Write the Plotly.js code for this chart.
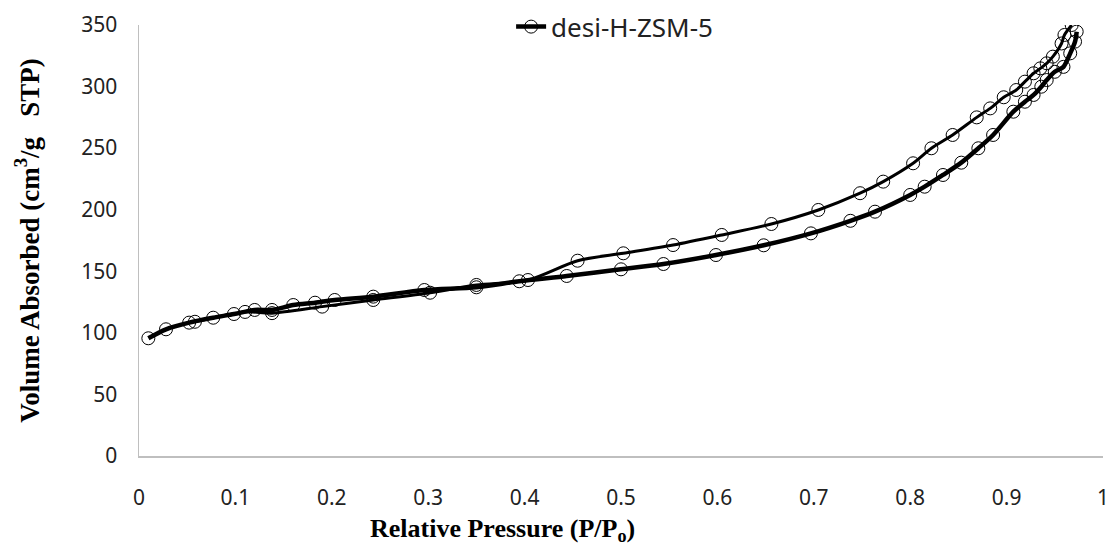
<!DOCTYPE html>
<html>
<head>
<meta charset="utf-8">
<script src="https://cdn.plot.ly/plotly-3.0.1.min.js"></script>
<style>html,body{margin:0;padding:0;background:#fff;}#chart{width:1119px;height:550px;}</style>
</head>
<body>
<div id="chart"></div>
<script>
// Adsorption branch (lower)
const adsP = [0.0097, 0.028, 0.052, 0.077, 0.0985, 0.12, 0.138, 0.16, 0.1826, 0.203, 0.243, 0.296, 0.350, 0.3945, 0.4437, 0.500, 0.544, 0.5985, 0.648, 0.697, 0.738, 0.7635, 0.800, 0.815, 0.834, 0.853, 0.8707, 0.886, 0.907, 0.919, 0.928, 0.936, 0.9416, 0.950, 0.959, 0.966, 0.971, 0.9727];
const adsV = [95.6, 102.9, 108.3, 112.3, 115.3, 118.6, 118.6, 122.6, 124.5, 126.7, 129.4, 134.8, 137.0, 141.9, 146.2, 151.6, 155.9, 163.2, 171.1, 180.8, 191.0, 198.4, 212.0, 218.7, 228.2, 238.2, 249.9, 260.7, 279.6, 287.7, 293.2, 299.9, 305.3, 312.0, 316.0, 327.0, 336.5, 344.6];
// Desorption branch (upper, then back down over the low-pressure region)
const desP = [0.9675, 0.960, 0.957, 0.948, 0.9416, 0.935, 0.928, 0.919, 0.910, 0.897, 0.883, 0.869, 0.844, 0.822, 0.803, 0.772, 0.748, 0.7047, 0.656, 0.6045, 0.554, 0.5024, 0.455, 0.4035, 0.350, 0.302, 0.243, 0.19, 0.138, 0.11, 0.058];
const desV = [350.0, 341.9, 335.0, 324.3, 318.9, 314.8, 310.8, 304.0, 297.2, 291.3, 282.3, 275.0, 260.7, 249.9, 237.7, 222.8, 213.4, 199.8, 188.4, 179.5, 171.3, 164.6, 158.6, 142.9, 138.9, 132.6, 126.7, 121.3, 116.0, 117.0, 109.0];

const seriesName = 'desi-H-ZSM-5';
const xTitle = 'Relative Pressure (P/P<sub>o</sub>)';
const yTitle = 'Volume Absorbed (cm<sup>3</sup>/g   STP)';
const marker = {symbol: 'circle-open', size: 13, color: '#000', line: {width: 1, color: '#000'}};

const traces = [
  {x: adsP, y: adsV, type: 'scatter', mode: 'lines+markers', name: seriesName,
   line: {color: '#000', width: 4.5, shape: 'spline', smoothing: 0.8}, marker: marker, showlegend: true},
  {x: desP, y: desV, type: 'scatter', mode: 'lines+markers', name: seriesName,
   line: {color: '#000', width: 3, shape: 'spline', smoothing: 0.8}, marker: marker, showlegend: false}
];

const titleFont = {family: 'Liberation Serif, Times New Roman, serif', color: '#000', weight: 'bold'};
const layout = {
  width: 1119, height: 550,
  margin: {l: 139, r: 16, t: 25, b: 94, autoexpand: false},
  paper_bgcolor: '#fff', plot_bgcolor: '#fff',
  showlegend: true,
  legend: {x: 0.386, xanchor: 'left', y: 0.996, yanchor: 'middle', orientation: 'h',
           font: {family: 'Noto Sans, Open Sans, sans-serif', size: 26, color: '#222'}, bgcolor: 'rgba(0,0,0,0)'},
  xaxis: {range: [0, 1], dtick: 0.1, tick0: 0, showgrid: false, zeroline: false, automargin: false,
          showline: true, linecolor: '#bfbfbf', linewidth: 1.5, ticks: '', ticklabelstandoff: 22,
          tickfont: {family: 'Noto Sans, Open Sans, sans-serif', size: 21, color: '#222'}},
  yaxis: {range: [0, 350], dtick: 50, showgrid: false, zeroline: false, automargin: false,
          showline: true, linecolor: '#bfbfbf', linewidth: 1.5, ticks: '', ticklabelstandoff: 16,
          tickfont: {family: 'Noto Sans, Open Sans, sans-serif', size: 21, color: '#222'},
          title: {text: yTitle, standoff: 34, font: Object.assign({size: 27}, titleFont)}},
  annotations: [
    {text: xTitle, xref: 'paper', yref: 'paper', x: (502 - 139) / 964, y: -(530 - 456) / 431,
     xanchor: 'center', yanchor: 'middle', showarrow: false, font: Object.assign({size: 26}, titleFont)}
  ]
};

Plotly.newPlot('chart', traces, layout, {displayModeBar: false, staticPlot: true});
</script>
</body>
</html>
